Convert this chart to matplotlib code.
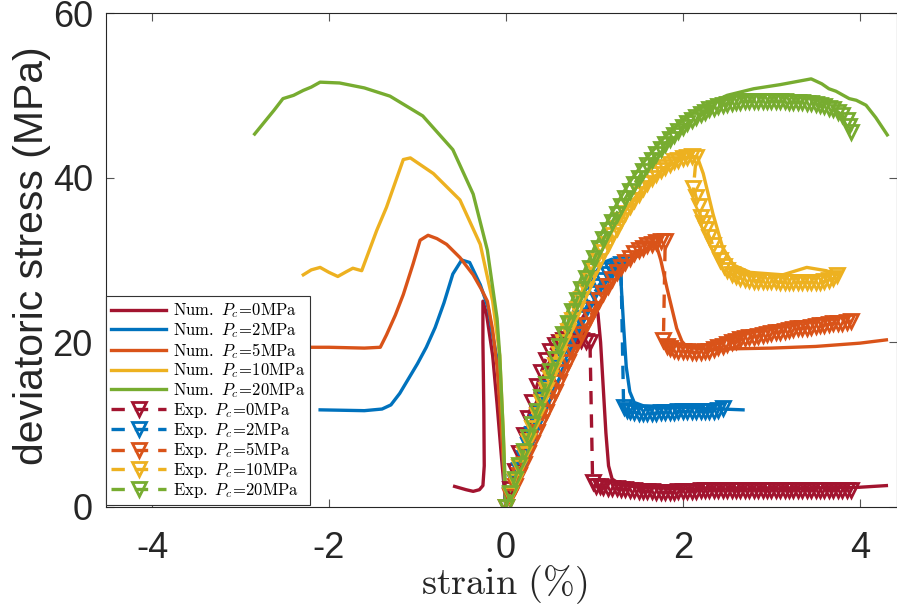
import matplotlib
matplotlib.use("Agg")
import matplotlib.pyplot as plt

plt.rcParams['font.family'] = ['Liberation Sans', 'DejaVu Sans']
plt.rcParams['mathtext.fontset'] = 'cm'
plt.rcParams['axes.unicode_minus'] = False

# ---------------- colours (MATLAB default order) ----------------
colors = ['#A2142F', '#0072BD', '#D95319', '#EDB120', '#77AC30']
pressures = ['0', '2', '5', '10', '20']

# ---------------- numerical curves ----------------
num_x_0 = [-0.58, -0.45, -0.37, -0.30, -0.26, -0.245, -0.25, -0.26, -0.26, -0.22, -0.15, -0.10, -0.05, 0.0,
           0.2, 0.4, 0.6, 0.8, 0.95, 1.0, 1.04, 1.07, 1.10, 1.13, 1.16, 1.20, 1.30, 1.5, 2.0, 2.5, 3.0, 3.5, 4.0, 4.3]
num_y_0 = [2.5, 2.1, 1.9, 2.1, 2.6, 5.0, 12.0, 20.0, 25.0, 23.5, 18.4, 12.5, 6.0, 0.0,
           6.5, 12.5, 17.5, 21.8, 24.5, 24.8, 23.5, 20.0, 14.5, 9.0, 5.0, 3.4, 2.7, 2.4, 2.2, 2.2, 2.2, 2.3, 2.4, 2.6]

num_x_2 = [-2.1, -1.6, -1.4, -1.3, -1.2, -1.1, -1.0, -0.9, -0.8, -0.7, -0.6, -0.5, -0.41, -0.29, -0.2, -0.15, -0.1,
           -0.07, -0.04, -0.01, 0.0,
           0.2, 0.4, 0.6, 0.8, 1.0, 1.1, 1.2, 1.27, 1.30, 1.33, 1.36, 1.40, 1.45, 1.55, 1.8, 2.2, 2.68]
num_y_2 = [11.8, 11.7, 11.9, 12.4, 13.8, 15.6, 17.4, 19.4, 21.8, 24.8, 28.3, 30.0, 29.7, 27.0, 24.2, 20.9, 18.0,
           15.0, 8.0, 1.0, 0.0,
           7.0, 13.5, 19.5, 24.5, 28.3, 29.7, 30.1, 29.5, 27.5, 22.0, 17.0, 14.0, 12.7, 12.3, 12.2, 12.0, 11.8]

num_x_5 = [-4.52, -3.5, -2.5, -2.0, -1.6, -1.42, -1.35, -1.25, -1.16, -1.05, -0.97, -0.88, -0.78, -0.67, -0.52,
           -0.37, -0.28, -0.21, -0.15, -0.10, -0.06, -0.03, 0.0,
           0.2, 0.4, 0.6, 0.8, 1.0, 1.2, 1.4, 1.6, 1.7, 1.75, 1.82, 1.93, 1.99, 2.05, 2.2, 2.5, 3.0, 3.5, 4.0, 4.3]
num_y_5 = [19.4, 19.3, 19.4, 19.4, 19.3, 19.4, 20.9, 23.3, 25.8, 29.5, 32.4, 33.0, 32.6, 31.9, 30.3,
           28.2, 26.5, 25.0, 21.5, 17.0, 11.0, 5.5, 0.0,
           5.5, 10.5, 15.3, 19.8, 23.8, 27.2, 29.8, 31.4, 31.8, 30.0, 26.6, 21.7, 20.1, 19.4, 19.2, 19.2, 19.3, 19.5, 19.9, 20.3]

num_x_10 = [-2.29, -2.2, -2.10, -2.0, -1.90, -1.80, -1.73, -1.63, -1.46, -1.35, -1.16, -1.08, -0.82, -0.52, -0.29,
            -0.15, -0.07, -0.03, 0.0,
            0.2, 0.4, 0.6, 0.8, 1.0, 1.2, 1.4, 1.6, 1.8, 2.0, 2.16, 2.23, 2.34, 2.45, 2.57, 2.76, 3.13, 3.40, 3.62, 3.75]
num_y_10 = [28.2, 28.8, 29.1, 28.5, 28.0, 28.6, 29.0, 28.7, 33.6, 36.4, 42.2, 42.4, 40.5, 37.3, 31.9,
            25.0, 18.4, 9.0, 0.0,
            7.0, 13.5, 19.5, 24.8, 29.5, 33.5, 36.8, 39.4, 41.2, 42.3, 42.6, 40.5, 35.6, 31.5, 29.4, 28.5, 28.2, 29.1, 28.7, 28.2]

num_x_20 = [-2.84, -2.62, -2.52, -2.40, -2.29, -2.20, -2.10, -1.88, -1.60, -1.31, -0.94, -0.60, -0.37, -0.21, -0.10,
            -0.07, -0.03, 0.0,
            0.2, 0.4, 0.6, 0.8, 1.0, 1.2, 1.4, 1.6, 1.8, 2.0, 2.2, 2.5, 2.8, 3.1, 3.3, 3.45, 3.57, 3.65, 3.73,
            3.88, 3.96, 4.07, 4.18, 4.31]
num_y_20 = [45.3, 48.2, 49.6, 50.0, 50.6, 51.0, 51.6, 51.5, 50.9, 49.9, 47.5, 43.4, 38.0, 31.2, 22.9,
            18.4, 9.0, 0.0,
            7.5, 14.5, 21.0, 26.5, 31.5, 35.8, 39.5, 42.5, 45.0, 47.0, 48.5, 50.0, 50.8, 51.3, 51.7, 52.0, 51.4, 50.8, 50.5,
            49.6, 49.4, 48.8, 47.3, 45.2]

# ---------------- experimental curves ----------------
exp_x_0 = [0.0, 0.05, 0.1, 0.15, 0.2, 0.25, 0.3, 0.35, 0.4, 0.45, 0.5, 0.55, 0.6, 0.65, 0.7, 0.75, 0.8, 0.85,
           0.9, 0.95, 0.98, 1.02, 1.06, 1.1, 1.15, 1.2, 1.25, 1.3, 1.35, 1.4, 1.45, 1.5, 1.55, 1.6, 1.65, 1.7,
           1.75, 1.8, 1.85, 1.9, 1.95, 2.0, 2.05, 2.1, 2.15, 2.2, 2.25, 2.3, 2.35, 2.4, 2.45, 2.5, 2.55, 2.6,
           2.65, 2.7, 2.75, 2.8, 2.85, 2.9, 2.95, 3.0, 3.05, 3.1, 3.15, 3.2, 3.25, 3.3, 3.35, 3.4, 3.45, 3.5,
           3.55, 3.6, 3.65, 3.7, 3.75, 3.8, 3.85, 3.9]
exp_y_0 = [0.0, 2.2, 4.4, 6.6, 8.7, 10.8, 12.8, 14.7, 16.4, 17.9, 19.0, 19.7, 20.1, 20.3, 20.4, 20.4, 20.4, 20.3,
           20.2, 20.1, 3.0, 2.6, 2.5, 2.4, 2.35, 2.3, 2.3, 2.2, 2.2, 2.1, 2.1, 2.0, 2.0, 1.9, 1.9, 1.8,
           1.8, 1.8, 1.8, 1.8, 1.9, 1.9, 2.0, 2.0, 2.0, 2.1, 2.1, 2.1, 2.1, 2.1, 2.1, 2.1, 2.1, 2.1,
           2.1, 2.1, 2.1, 2.1, 2.1, 2.1, 2.1, 2.1, 2.1, 2.1, 2.1, 2.1, 2.1, 2.1, 2.1, 2.1, 2.1, 2.1,
           2.1, 2.1, 2.1, 2.1, 2.1, 2.1, 2.1, 2.1]

exp_x_2 = [0.0, 0.05, 0.1, 0.15, 0.2, 0.25, 0.3, 0.35, 0.4, 0.45, 0.5, 0.55, 0.6, 0.65, 0.7, 0.75, 0.8, 0.85,
           0.9, 0.95, 1.0, 1.05, 1.1, 1.15, 1.2, 1.25, 1.3, 1.33, 1.37, 1.4, 1.45, 1.5, 1.55, 1.6, 1.65, 1.7,
           1.75, 1.8, 1.85, 1.9, 1.95, 2.0, 2.05, 2.1, 2.15, 2.2, 2.25, 2.3, 2.35, 2.4, 2.45]
exp_y_2 = [0.0, 1.5, 3.0, 4.5, 6.0, 7.5, 8.9, 10.3, 11.7, 13.1, 14.4, 15.7, 17.0, 18.3, 19.5, 20.7, 21.9, 23.0,
           24.1, 25.1, 26.0, 26.9, 27.6, 28.3, 28.8, 29.2, 29.5, 12.2, 11.8, 11.6, 11.5, 11.4, 11.4, 11.4, 11.4, 11.4,
           11.5, 11.5, 11.5, 11.5, 11.6, 11.6, 11.6, 11.6, 11.6, 11.6, 11.7, 11.7, 11.7, 11.8, 12.0]

exp_x_5 = [0.0, 0.05, 0.1, 0.15, 0.2, 0.25, 0.3, 0.35, 0.4, 0.45, 0.5, 0.55, 0.6, 0.65, 0.7, 0.75, 0.8, 0.85,
           0.9, 0.95, 1.0, 1.05, 1.1, 1.15, 1.2, 1.25, 1.3, 1.35, 1.4, 1.45, 1.5, 1.55, 1.6, 1.65, 1.7, 1.75, 1.8,
           1.78, 1.82, 1.86, 1.9, 1.95, 2.0, 2.05, 2.1, 2.15, 2.2, 2.25, 2.3, 2.35, 2.4, 2.45, 2.5, 2.55, 2.6,
           2.65, 2.7, 2.75, 2.8, 2.85, 2.9, 2.95, 3.0, 3.05, 3.1, 3.15, 3.2, 3.25, 3.3, 3.35, 3.4, 3.45, 3.5,
           3.55, 3.6, 3.65, 3.7, 3.75, 3.8, 3.85, 3.9]
exp_y_5 = [0.0, 1.3, 2.6, 3.9, 5.2, 6.5, 7.8, 9.1, 10.3, 11.5, 12.8, 14.0, 15.2, 16.4, 17.6, 18.8, 19.9, 21.0,
           22.1, 23.1, 24.1, 25.1, 26.0, 26.9, 27.7, 28.5, 29.2, 29.8, 30.3, 30.8, 31.2, 31.5, 31.8, 32.0, 32.2, 32.3, 32.3,
           20.3, 19.6, 19.3, 19.1, 19.0, 18.9, 18.9, 18.8, 18.8, 18.8, 18.9, 19.0, 19.2, 19.4, 19.6, 19.8, 20.0, 20.2,
           20.4, 20.5, 20.6, 20.7, 20.8, 20.9, 21.0, 21.1, 21.2, 21.3, 21.4, 21.5, 21.6, 21.7, 21.75, 21.8, 21.9, 22.0,
           22.05, 22.1, 22.2, 22.3, 22.35, 22.4, 22.5, 22.6]

exp_x_10 = [0.0, 0.05, 0.1, 0.15, 0.2, 0.25, 0.3, 0.35, 0.4, 0.45, 0.5, 0.55, 0.6, 0.65, 0.7, 0.75, 0.8, 0.85,
            0.9, 0.95, 1.0, 1.05, 1.1, 1.15, 1.2, 1.25, 1.3, 1.35, 1.4, 1.45, 1.5, 1.55, 1.6, 1.65, 1.7, 1.75, 1.8,
            1.85, 1.9, 1.95, 2.0, 2.05, 2.1, 2.15, 2.12, 2.15, 2.18, 2.2, 2.23, 2.26, 2.3, 2.34, 2.38, 2.42, 2.46,
            2.5, 2.55, 2.6, 2.65, 2.7, 2.75, 2.8, 2.85, 2.9, 2.95, 3.0, 3.05, 3.1, 3.15, 3.2, 3.25, 3.3, 3.35,
            3.4, 3.45, 3.5, 3.55, 3.6, 3.65, 3.7, 3.74]
exp_y_10 = [0.0, 1.6, 3.2, 4.8, 6.4, 8.0, 9.6, 11.2, 12.7, 14.2, 15.7, 17.2, 18.6, 20.0, 21.4, 22.7, 24.0, 25.3,
            26.5, 27.7, 28.8, 29.9, 31.0, 32.0, 33.0, 33.9, 34.8, 35.7, 36.5, 37.3, 38.0, 38.7, 39.3, 39.9, 40.4, 40.9, 41.3,
            41.7, 42.0, 42.2, 42.4, 42.5, 42.6, 42.5, 38.8, 37.6, 36.6, 35.2, 34.5, 33.8, 32.8, 31.8, 30.8, 30.0, 29.3,
            28.8, 28.3, 28.0, 27.8, 27.7, 27.6, 27.5, 27.5, 27.4, 27.4, 27.4, 27.4, 27.3, 27.3, 27.3, 27.3, 27.3, 27.3,
            27.3, 27.3, 27.3, 27.3, 27.4, 27.6, 27.8, 28.2]

exp_x_20 = [0.0, 0.05, 0.1, 0.15, 0.2, 0.25, 0.3, 0.35, 0.4, 0.45, 0.5, 0.55, 0.6, 0.65, 0.7, 0.75, 0.8, 0.85,
            0.9, 0.95, 1.0, 1.05, 1.1, 1.15, 1.2, 1.25, 1.3, 1.35, 1.4, 1.45, 1.5, 1.55, 1.6, 1.65, 1.7, 1.75, 1.8,
            1.85, 1.9, 1.95, 2.0, 2.05, 2.1, 2.15, 2.2, 2.25, 2.3, 2.35, 2.4, 2.45, 2.5, 2.55, 2.6, 2.65, 2.7,
            2.75, 2.8, 2.85, 2.9, 2.95, 3.0, 3.05, 3.1, 3.15, 3.2, 3.25, 3.3, 3.35, 3.4, 3.45, 3.5, 3.55, 3.6,
            3.65, 3.7, 3.75, 3.8, 3.85, 3.88, 3.9]
exp_y_20 = [0.0, 1.7, 3.4, 5.1, 6.8, 8.5, 10.1, 11.7, 13.3, 14.9, 16.5, 18.0, 19.5, 21.0, 22.4, 23.8, 25.2, 26.5,
            27.8, 29.0, 30.2, 31.4, 32.5, 33.6, 34.6, 35.6, 36.6, 37.5, 38.4, 39.2, 40.0, 40.8, 41.5, 42.2, 42.9, 43.5, 44.1,
            44.7, 45.2, 45.7, 46.2, 46.6, 47.0, 47.4, 47.7, 48.0, 48.3, 48.5, 48.7, 48.85, 49.0, 49.1, 49.2, 49.25, 49.3,
            49.3, 49.3, 49.3, 49.3, 49.3, 49.3, 49.3, 49.3, 49.3, 49.2, 49.2, 49.2, 49.2, 49.1, 49.1, 49.0, 48.8, 48.7,
            48.5, 48.3, 48.0, 47.6, 47.0, 46.3, 45.6]

num_x = [num_x_0, num_x_2, num_x_5, num_x_10, num_x_20]
num_y = [num_y_0, num_y_2, num_y_5, num_y_10, num_y_20]
exp_x = [exp_x_0, exp_x_2, exp_x_5, exp_x_10, exp_x_20]
exp_y = [exp_y_0, exp_y_2, exp_y_5, exp_y_10, exp_y_20]

x_ticks = [-4, -2, 0, 2, 4]
y_ticks = [0, 20, 40, 60]

# ---------------- figure ----------------
W, H = 897, 607
fig = plt.figure(figsize=(W / 100, H / 100), dpi=100)
ax = fig.add_axes([106 / W, 1 - 507 / H, (W - 106) / W, (507 - 13) / H])

for i in range(5):
    ax.plot(num_x[i], num_y[i], '-', color=colors[i], lw=2.4,
            label=r'$\mathrm{Num.}\ P_c\!=\!\mathrm{%sMPa}$' % pressures[i])
for i in range(5):
    ax.plot(exp_x[i], exp_y[i], linestyle=(0, (4, 3)), color=colors[i], lw=2.4,
            marker='v', markersize=10, markerfacecolor='none', markeredgecolor=colors[i],
            markeredgewidth=2.0,
            label=r'$\mathrm{Exp.}\ P_c\!=\!\mathrm{%sMPa}$' % pressures[i])

ax.set_xlim(-4.52, 4.42)
ax.set_ylim(0, 60)
ax.set_xticks(x_ticks)
ax.set_yticks(y_ticks)
ax.set_xticklabels([str(t) for t in x_ticks])
ax.set_yticklabels([str(t) for t in y_ticks])

axc = '#262626'
for s in ax.spines.values():
    s.set_color(axc)
    s.set_linewidth(0.8)
ax.tick_params(axis='both', direction='in', length=6, width=0.8, color='#555555',
               top=True, right=True, labelsize=26, labelcolor=axc)
ax.tick_params(axis='x', pad=17)
ax.tick_params(axis='y', pad=9.5)

fig.text(32 / W, 1 - 256 / H, 'deviatoric stress (MPa)', rotation=90, ha='center', va='center',
         fontsize=29.4, color=axc)
fig.text(504 / W, 1 - 585 / H, r'$\mathrm{strain\ (\%)}$', ha='center', va='center',
         fontsize=27.5, color=axc)

leg = ax.legend(loc='lower left', bbox_to_anchor=(0, 0.004), borderaxespad=0, fontsize=12,
                frameon=True, fancybox=False, edgecolor='#333333', framealpha=1,
                handlelength=3.3, handletextpad=0.42, labelspacing=0.05, borderpad=0.3,
                numpoints=1)
leg.get_frame().set_linewidth(0.8)

fig.savefig('out.png', dpi=100)
